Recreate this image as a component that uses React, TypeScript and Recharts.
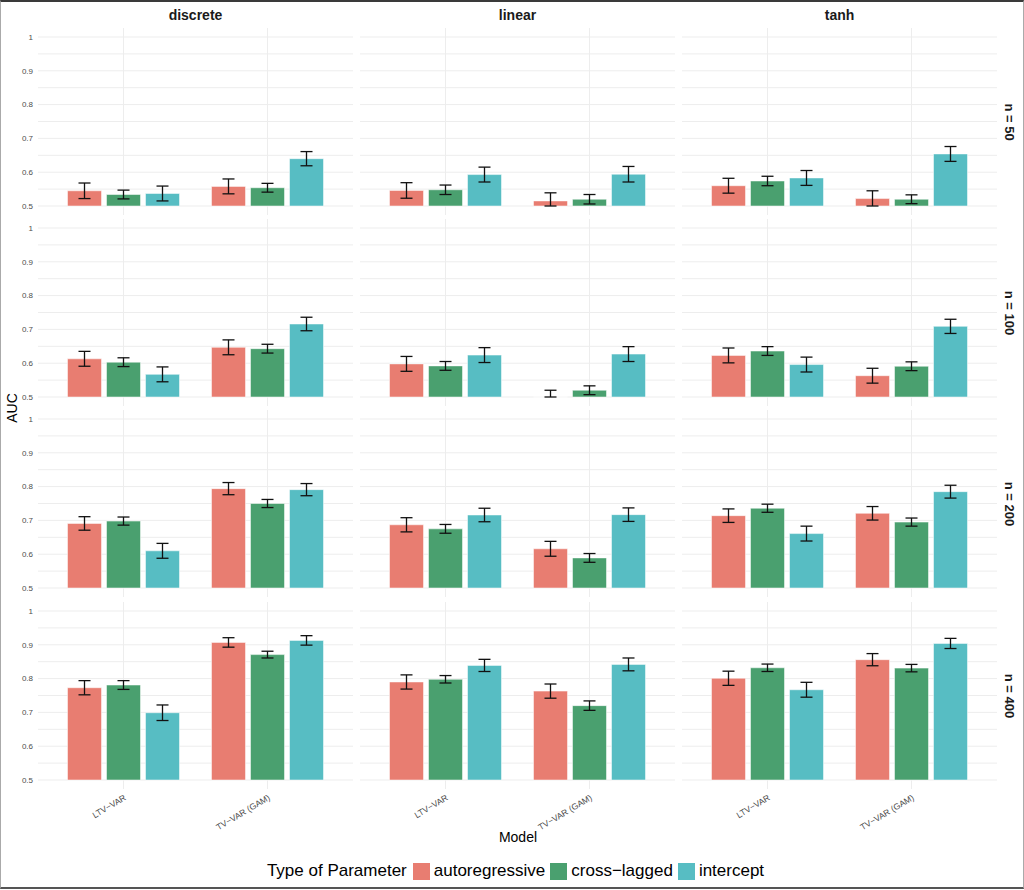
import React from "react"
import { BarChart, Bar, XAxis, YAxis, CartesianGrid, ErrorBar } from "recharts"

// order: n (50,100,200,400) -> facet (discrete, linear, tanh) -> model (LTV, GAM)
const facets = ["discrete", "linear", "tanh"]
const sampleSizes = ["n = 50", "n = 100", "n = 200", "n = 400"]
const models = ["LTV\u2212VAR", "TV\u2212VAR (GAM)"]
const types = ["autoregressive", "cross\u2212lagged", "intercept"]

const autoregressive = [
  0.545, 0.558, 0.546, 0.515, 0.56, 0.522,
  0.613, 0.647, 0.598, 0.498, 0.623, 0.563,
  0.691, 0.794, 0.687, 0.616, 0.714, 0.721,
  0.773, 0.907, 0.79, 0.763, 0.801, 0.856,
]
const autoregressiveErr = [
  0.023, 0.022, 0.023, 0.024, 0.022, 0.023,
  0.022, 0.022, 0.022, 0.022, 0.022, 0.022,
  0.02, 0.018, 0.021, 0.022, 0.02, 0.02,
  0.021, 0.014, 0.021, 0.021, 0.021, 0.018,
]
const crossLagged = [
  0.534, 0.554, 0.548, 0.52, 0.574, 0.52,
  0.603, 0.643, 0.592, 0.52, 0.636, 0.591,
  0.698, 0.75, 0.675, 0.589, 0.736, 0.695,
  0.781, 0.871, 0.798, 0.72, 0.832, 0.831,
]
const crossLaggedErr = [
  0.013, 0.013, 0.014, 0.014, 0.014, 0.013,
  0.013, 0.013, 0.013, 0.013, 0.013, 0.013,
  0.012, 0.012, 0.013, 0.013, 0.012, 0.012,
  0.013, 0.01, 0.011, 0.014, 0.011, 0.011,
]
const intercept = [
  0.537, 0.64, 0.593, 0.594, 0.583, 0.654,
  0.567, 0.716, 0.624, 0.627, 0.596, 0.709,
  0.61, 0.791, 0.716, 0.717, 0.661, 0.785,
  0.699, 0.913, 0.839, 0.842, 0.767, 0.904,
]
const interceptErr = [
  0.022, 0.021, 0.022, 0.023, 0.022, 0.022,
  0.022, 0.02, 0.022, 0.022, 0.022, 0.021,
  0.022, 0.018, 0.02, 0.02, 0.022, 0.019,
  0.023, 0.014, 0.018, 0.019, 0.022, 0.015,
]

// major ticks get labels, minor ones only a grid line
const yMajor = [0.5, 0.6, 0.7, 0.8, 0.9, 1]
const yMinor = [0.55, 0.65, 0.75, 0.85, 0.95]
const yTicks = [...yMajor, ...yMinor].sort((a, b) => a - b)

const colors = ["#E87D71", "#4AA06F", "#57BDC3"]
const FONT = "'Liberation Sans', Arial, sans-serif"

// squish values below the 0.5 limit (ggplot oob = squish); a hair above 0.5
// keeps the empty bar's error bar drawn
function squish(mean: number, err: number) {
  const shown = Math.max(mean, 0.5001)
  const lo = Math.max(mean - err, 0.5)
  const hi = Math.min(mean + err, 1)
  return { shown, errs: [shown - lo, hi - shown] }
}

function panelData(row: number, col: number) {
  return models.map((m, k) => {
    const i = row * 6 + col * 2 + k
    const a = squish(autoregressive[i], autoregressiveErr[i])
    const c = squish(crossLagged[i], crossLaggedErr[i])
    const t = squish(intercept[i], interceptErr[i])
    return {
      model: m,
      ar: a.shown, arErr: a.errs,
      cl: c.shown, clErr: c.errs,
      ic: t.shown, icErr: t.errs,
    }
  })
}

const colX = [38, 360, 682]
const rowTop = [28, 219, 410, 602]
const PW = 315
const PH = 187

function Panel({ row, col }: { row: number; col: number }) {
  const first = col === 0
  const last = row === 3
  const w = PW + (first ? 38 : 0)
  const h = PH + (last ? 50 : 0)
  return (
    <div style={{ position: "absolute", left: colX[col] - (first ? 38 : 0), top: rowTop[row] }}>
      <BarChart
        width={w}
        height={h}
        data={panelData(row, col)}
        margin={{ top: 0, right: 0, bottom: 0, left: 0 }}
        barSize={34}
        barGap={5}
      >
        <CartesianGrid syncWithTicks stroke="#EDEDED" strokeWidth={1} />
        <XAxis
          dataKey="model"
          hide={!last}
          height={50}
          padding={{ left: 13.5, right: 13.5 }}
          axisLine={false}
          tickLine={false}
          tickSize={0}
          tickMargin={5}
          angle={-31}
          textAnchor="end"
          interval={0}
          tick={{ fontSize: 8.6, fill: "#4D4D4D", fontFamily: FONT }}
        />
        <YAxis
          type="number"
          domain={[0.5, 1]}
          ticks={yTicks}
          interval={0}
          hide={!first}
          width={38}
          padding={{ top: 9, bottom: 9 }}
          axisLine={false}
          tickLine={false}
          tickSize={0}
          tickMargin={5}
          tickFormatter={(v: number) =>
            yMajor.includes(v) ? (v === 1 ? "1" : v.toFixed(1)) : ""
          }
          tick={{ fontSize: 8, fill: "#4D4D4D", fontFamily: FONT }}
        />
        <Bar dataKey="ar" fill={colors[0]} stroke="#fff" strokeOpacity={0.5} isAnimationActive={false}>
          <ErrorBar dataKey="arErr" width={6} stroke="#111" strokeWidth={1.3} />
        </Bar>
        <Bar dataKey="cl" fill={colors[1]} stroke="#fff" strokeOpacity={0.5} isAnimationActive={false}>
          <ErrorBar dataKey="clErr" width={6} stroke="#111" strokeWidth={1.3} />
        </Bar>
        <Bar dataKey="ic" fill={colors[2]} stroke="#fff" strokeOpacity={0.5} isAnimationActive={false}>
          <ErrorBar dataKey="icErr" width={6} stroke="#111" strokeWidth={1.3} />
        </Bar>
      </BarChart>
    </div>
  )
}

export default function App() {
  return (
    <div
      style={{
        position: "absolute",
        left: 0,
        top: 0,
        width: 1024,
        height: 889,
        boxSizing: "border-box",
        borderTop: "2px solid #3A3A3A",
        borderBottom: "2px solid #555",
        borderLeft: "1px solid #AAA",
        borderRight: "1px solid #AAA",
        background: "#fff",
        fontFamily: FONT,
        overflow: "hidden",
      }}
    >
      <div style={{ position: "absolute", left: -1, top: -2 }}>
        {sampleSizes.map((_, r) =>
          facets.map((_, c) => <Panel key={r + "-" + c} row={r} col={c} />)
        )}

        {facets.map((f, c) => (
          <div
            key={f}
            style={{
              position: "absolute",
              left: colX[c],
              width: PW,
              top: 7,
              textAlign: "center",
              fontSize: 14,
              fontWeight: "bold",
              color: "#1A1A1A",
            }}
          >
            {f}
          </div>
        ))}

        {sampleSizes.map((s, r) => (
          <div
            key={s}
            style={{
              position: "absolute",
              left: 1009 - 60,
              top: rowTop[r] + PH / 2 - 9,
              width: 120,
              height: 18,
              lineHeight: "18px",
              textAlign: "center",
              fontSize: 13,
              fontWeight: "bold",
              color: "#1A1A1A",
              transform: "rotate(90deg)",
              transformOrigin: "60px 9px",
            }}
          >
            {s}
          </div>
        ))}

        <div
          style={{
            position: "absolute",
            left: 12 - 40,
            top: 408 - 9,
            width: 80,
            height: 18,
            lineHeight: "18px",
            textAlign: "center",
            fontSize: 14,
            color: "#000",
            transform: "rotate(-90deg)",
          }}
        >
          AUC
        </div>

        <div
          style={{
            position: "absolute",
            left: 0,
            width: 1036,
            top: 829,
            textAlign: "center",
            fontSize: 14,
            color: "#000",
          }}
        >
          Model
        </div>

        <div
          style={{
            position: "absolute",
            left: 0,
            width: 1036,
            top: 861,
            display: "flex",
            justifyContent: "center",
            alignItems: "center",
            fontSize: 17,
            color: "#000",
          }}
        >
          <span style={{ marginRight: 6 }}>Type of Parameter</span>
          {types.map((t, i) => (
            <span key={t} style={{ display: "flex", alignItems: "center", marginRight: 5 }}>
              <span
                style={{
                  display: "inline-block",
                  width: 17,
                  height: 17,
                  background: colors[i],
                  marginRight: 4,
                }}
              />
              {t}
            </span>
          ))}
        </div>
      </div>
    </div>
  )
}
